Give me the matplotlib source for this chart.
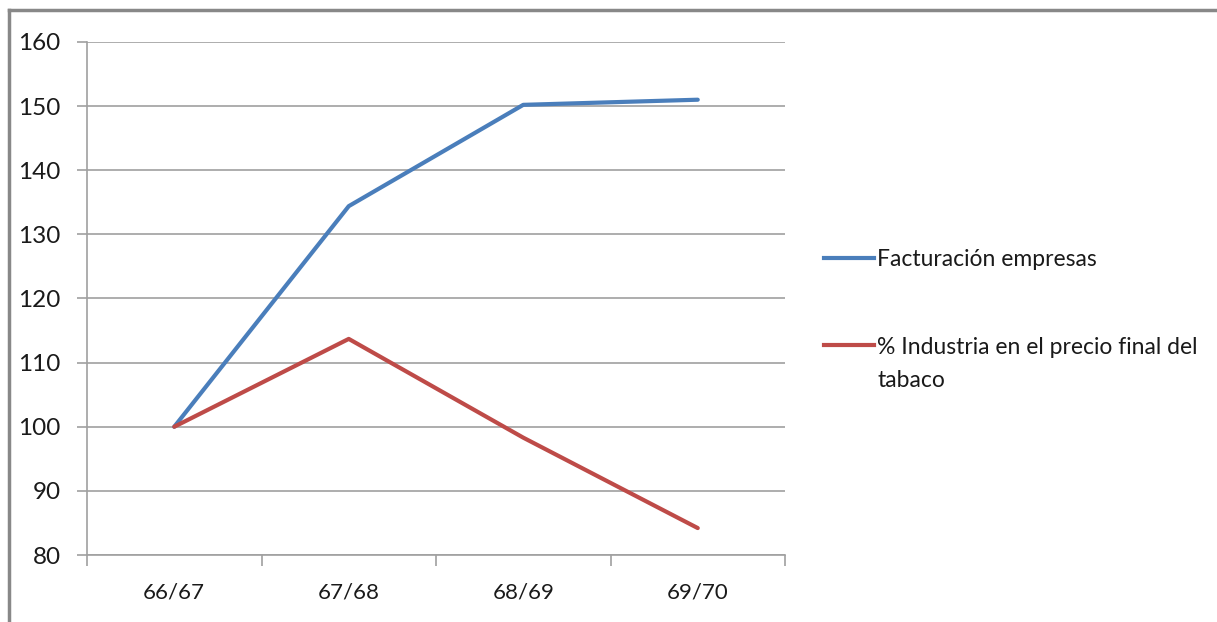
import matplotlib
matplotlib.use('Agg')
import matplotlib.pyplot as plt
from matplotlib.lines import Line2D

seasons = ['66/67', '67/68', '68/69', '69/70']
facturacion = [100, 134.4, 150.2, 151.0]
industria = [100, 113.7, 98.3, 84.2]
labels = ['Facturación empresas', '% Industria en el precio final del\ntabaco']

plt.rcParams['font.family'] = ['Lato', 'DejaVu Sans']
plt.rcParams['font.size'] = 16

fig = plt.figure(figsize=(12.17, 6.22), dpi=100)
ax = fig.add_axes([87 / 1217, 67 / 622, 698 / 1217, 513 / 622])

x = range(len(seasons))
ax.plot(x, facturacion, color='#4A7EBB', lw=3, solid_capstyle='round', label=labels[0])
ax.plot(x, industria, color='#BE4B48', lw=3, solid_capstyle='round', label=labels[1])

ax.set_xlim(-0.5, len(seasons) - 0.5)
ax.set_ylim(80, 160)
ax.set_yticks(range(80, 161, 10))
ax.set_xticks(list(x))
ax.set_xticklabels(seasons)
ax.set_xticks([i - 0.5 for i in range(len(seasons) + 1)], minor=True)

ax.grid(axis='y', color='#A0A0A0', lw=1.2)
ax.set_axisbelow(True)
for side in ['top', 'right']:
    ax.spines[side].set_visible(False)
for side in ['left', 'bottom']:
    ax.spines[side].set_color('#A0A0A0')
    ax.spines[side].set_linewidth(1.2)
ax.tick_params(axis='x', which='major', length=0, pad=20, labelcolor='#1a1a1a')
ax.tick_params(axis='x', which='minor', length=8, color='#A0A0A0', width=1.2)
ax.tick_params(axis='y', length=7, color='#A0A0A0', width=1.2, pad=12, labelcolor='#1a1a1a',
               labelsize=17.5)

handles = [Line2D([], [], color='#4A7EBB', lw=3), Line2D([], [], color='#BE4B48', lw=3)]
leg = fig.legend(handles, labels, loc='upper left', bbox_to_anchor=(803 / 1217, 1 - 228 / 622),
                 frameon=False, fontsize=16.5, handlelength=2.2, handletextpad=0.15,
                 labelspacing=2.95)
for t in leg.get_texts():
    t.set_linespacing(1.7)
    t.set_color('#1a1a1a')
# put the red sample level with the first line of its two-line label
for col in leg._legend_handle_box.get_children():
    col.get_children()[1].align = 'top'

# frame along top and left
fig.add_artist(Line2D([9 / 1217, 9 / 1217], [0, 1 - 10 / 622], color='#888888', lw=2.5))
fig.add_artist(Line2D([9 / 1217, 1], [1 - 10 / 622, 1 - 10 / 622], color='#888888', lw=2.5))

fig.savefig('out.png', dpi=100)
